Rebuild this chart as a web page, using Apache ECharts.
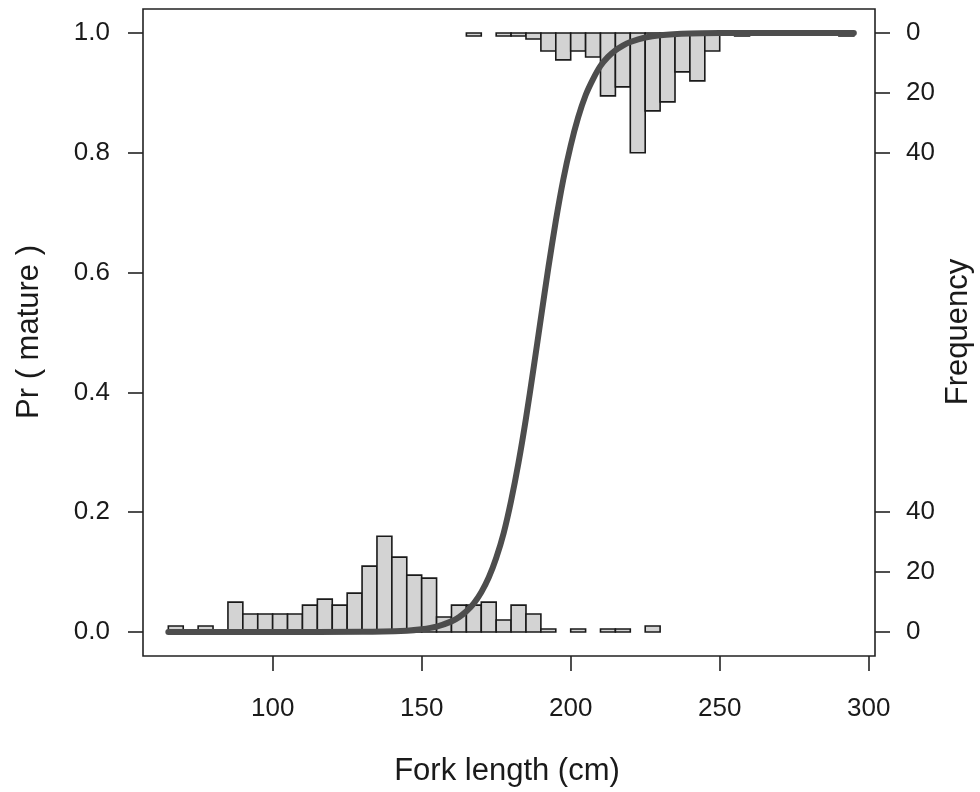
<!DOCTYPE html>
<html><head><meta charset="utf-8">
<script src="https://cdn.jsdelivr.net/npm/echarts@6/dist/echarts.min.js"></script>
<style>html,body{margin:0;padding:0;background:#fff}#c{width:980px;height:792px}</style>
</head><body><div id="c"></div>
<script>
// ---- data ----
const binWidth = 5;
const immatureBinStarts = [65,70,75,80,85,90,95,100,105,110,115,120,125,130,135,140,145,150,155,160,165,170,175,180,185,190,195,200,205,210,215,220,225];
const immatureCounts    = [ 2, 0, 2, 0,10, 6, 6,  6,  6,  9, 11,  9, 13, 22, 32, 25, 19, 18,  5,  9,  9, 10,  4,  9,  6,  1,  0,  1,  0,  1,  1,  0,  2];
const matureBinStarts = [165,170,175,180,185,190,195,200,205,210,215,220,225,230,235,240,245,250,255,260,265,270,275,280,285,290];
const matureCounts    = [  1,  0,  1,  1,  2,  6,  9,  6,  8, 21, 18, 40, 26, 23, 13, 16,  6,  0,  1,  0,  0,  0,  0,  0,  0,  1];
const curveLength = [65,100,130,145,150,155,160,162.5,165,167.5,170,172.5,175,177.5,180,182.5,185,187.5,190,192.5,195,197.5,200,202.5,205,207.5,210,212.5,215,217.5,220,225,230,240,250,270,295];
const curveProb   = [0,0,0.0003,0.0023,0.0046,0.009,0.0178,0.0248,0.0346,0.048,0.0665,0.091,0.1236,0.165,0.219,0.283,0.357,0.439,0.524,0.608,0.686,0.755,0.812,0.859,0.896,0.923,0.945,0.960,0.971,0.979,0.985,0.9925,0.9962,0.999,0.9998,1,1];
const xTicks = [100,150,200,250,300];
const probTicks = [0,0.2,0.4,0.6,0.8,1.0];
const freqTicks = [0,20,40];

const FONT = '"Liberation Sans", Arial, sans-serif';
const TXT = '#1a1a1a';
const TICK_FS = 26;
const TITLE_FS = 31;

const chart = echarts.init(document.getElementById('c'), null, {renderer:'canvas'});

function histRender(params, api){
  const x0 = api.value(0), x1 = api.value(1), c = api.value(2);
  const p0 = api.coord([x0, 0]);
  const p1 = api.coord([x1, c]);
  return {
    type:'rect',
    shape:{x:p0[0], y:Math.min(p0[1],p1[1]), width:p1[0]-p0[0], height:Math.abs(p1[1]-p0[1])},
    style:{fill:'#d3d3d3', stroke:'#1a1a1a', lineWidth:1.6}
  };
}
const immData = immatureBinStarts.map((s,i)=>[s, s+binWidth, immatureCounts[i]]).filter(d=>d[2]>0);
const matData = matureBinStarts.map((s,i)=>[s, s+binWidth, matureCounts[i]]).filter(d=>d[2]>0);

const tickStyle = {show:true, length:15, inside:false, lineStyle:{color:'#222', width:1.6}};

chart.setOption({
  animation:false,
  backgroundColor:'#fff',
  grid:{left:143, right:105, top:9, bottom:136, show:true, borderColor:'#222', borderWidth:1.6, backgroundColor:'transparent'},
  xAxis:{
    type:'value', min:56.5, max:302.1,
    axisLine:{show:false, onZero:false},
    axisTick:Object.assign({customValues:xTicks}, tickStyle),
    axisLabel:{customValues:xTicks, fontSize:TICK_FS, fontFamily:FONT, color:TXT, margin:40},
    splitLine:{show:false}
  },
  yAxis:[
    {type:'value', position:'left', min:-0.04, max:1.04,
     axisLine:{show:false, onZero:false},
     axisTick:Object.assign({customValues:probTicks}, tickStyle),
     axisLabel:{customValues:probTicks, fontSize:TICK_FS, fontFamily:FONT, color:TXT, margin:33, formatter:v=>v.toFixed(1)},
     splitLine:{show:false}},
    {type:'value', position:'right', min:-8, max:208,
     axisLine:{show:false, onZero:false},
     axisTick:Object.assign({customValues:freqTicks}, tickStyle),
     axisLabel:{customValues:freqTicks, fontSize:TICK_FS, fontFamily:FONT, color:TXT, margin:31},
     splitLine:{show:false}},
    {type:'value', position:'right', inverse:true, min:-8, max:208,
     axisLine:{show:false, onZero:false},
     axisTick:Object.assign({customValues:freqTicks}, tickStyle),
     axisLabel:{customValues:freqTicks, fontSize:TICK_FS, fontFamily:FONT, color:TXT, margin:31},
     splitLine:{show:false}}
  ],
  graphic:[
    {type:'text', x:29, y:332, rotation:Math.PI/2, style:{text:'Pr ( mature )', fontSize:TITLE_FS, fontFamily:FONT, fill:TXT, align:'center', verticalAlign:'middle'}},
    {type:'text', x:958, y:332, rotation:Math.PI/2, style:{text:'Frequency', fontSize:TITLE_FS, fontFamily:FONT, fill:TXT, align:'center', verticalAlign:'middle'}},
    {type:'text', x:507, y:771, style:{text:'Fork length (cm)', fontSize:TITLE_FS, fontFamily:FONT, fill:TXT, align:'center', verticalAlign:'middle'}}
  ],
  series:[
    {type:'custom', name:'immature', xAxisIndex:0, yAxisIndex:1, renderItem:histRender, data:immData, z:2, encode:{x:[0,1], y:2}},
    {type:'custom', name:'mature', xAxisIndex:0, yAxisIndex:2, renderItem:histRender, data:matData, z:2, encode:{x:[0,1], y:2}},
    {type:'line', name:'fit', xAxisIndex:0, yAxisIndex:0, data:curveLength.map((x,i)=>[x, curveProb[i]]),
     smooth:0.3, showSymbol:false, symbol:'none',
     lineStyle:{color:'#4d4d4d', width:6, cap:'round', join:'round'}, z:10}
  ]
});
</script></body></html>
